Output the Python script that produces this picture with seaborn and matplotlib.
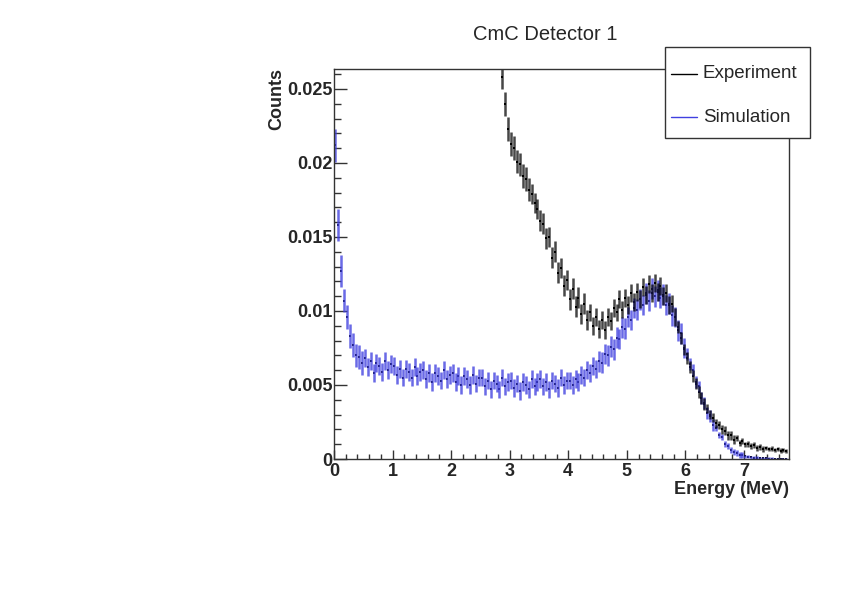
import numpy as np
import matplotlib
matplotlib.use("Agg")
import matplotlib.pyplot as plt
import seaborn as sns
from matplotlib.lines import Line2D
from matplotlib.patches import Rectangle
from matplotlib.ticker import MultipleLocator, FuncFormatter

# Histogram bins (MeV), 0.05 MeV wide
bin_width = 0.05
sim_start = 0.0
exp_start = 2.85

# Simulation counts per bin, 0.0 - 7.75 MeV
sim_counts = [
    0.0212, 0.0158, 0.0127, 0.0107, 0.0096, 0.0083, 0.0077, 0.0070, 0.0069, 0.0065,
    0.0068, 0.0062, 0.0066, 0.0058, 0.0065, 0.0063, 0.0059, 0.0066, 0.0060, 0.0064,
    0.0063, 0.0057, 0.0061, 0.0055, 0.0061, 0.0059, 0.0055, 0.0062, 0.0056, 0.0059,
    0.0060, 0.0054, 0.0058, 0.0052, 0.0058, 0.0056, 0.0053, 0.0060, 0.0054, 0.0057,
    0.0058, 0.0052, 0.0056, 0.0050, 0.0056, 0.0054, 0.0050, 0.0057, 0.0051, 0.0055,
    0.0055, 0.0049, 0.0053, 0.0047, 0.0053, 0.0051, 0.0047, 0.0055, 0.0049, 0.0052,
    0.0053, 0.0048, 0.0051, 0.0046, 0.0052, 0.0050, 0.0047, 0.0054, 0.0049, 0.0052,
    0.0054, 0.0049, 0.0052, 0.0047, 0.0053, 0.0051, 0.0048, 0.0055, 0.0050, 0.0053,
    0.0053, 0.0050, 0.0054, 0.0052, 0.0057, 0.0055, 0.0060, 0.0058, 0.0063, 0.0061,
    0.0066, 0.0065, 0.0071, 0.0070, 0.0076, 0.0074, 0.0082, 0.0081, 0.0089, 0.0088,
    0.0096, 0.0094, 0.0102, 0.0101, 0.0108, 0.0104, 0.0112, 0.0107, 0.0115, 0.0110,
    0.0114, 0.0109, 0.0111, 0.0104, 0.0105, 0.0097, 0.0096, 0.0087, 0.0085, 0.0075,
    0.0071, 0.0064, 0.0060, 0.0052, 0.0049, 0.0041, 0.0038, 0.0031, 0.0029, 0.0023,
    0.0021, 0.0016, 0.0015, 0.0010, 0.0009, 0.0006, 0.0005, 0.0004, 0.0003, 0.00025,
    0.0002, 0.00015, 0.00012, 0.0001, 0.00008, 0.00006, 0.00005, 0.00004, 0.00003, 0.00003,
    0.00002, 0.00002, 0.00001, 0.00001, 0.00001,
]
sim_errors = ([0.0011] * 3 + [0.0008] * 7 + [0.0006] * 80 + [0.0007] * 30
              + [0.0004] * 10 + [0.0002] * 10 + [0.0001] * 10 + [0.00005] * 5)

# Experiment counts per bin, 2.85 - 7.75 MeV (lower bins are off scale)
exp_counts = [
    0.0258, 0.0240, 0.0223, 0.0213, 0.0210, 0.0201, 0.0199, 0.0191, 0.0189, 0.0182,
    0.0179, 0.0173, 0.0169, 0.0161, 0.0159, 0.0149, 0.0150, 0.0136, 0.0140, 0.0126,
    0.0129, 0.0117, 0.0121, 0.0108, 0.0115, 0.0103, 0.0109, 0.0098, 0.0105, 0.0094,
    0.0099, 0.0090, 0.0096, 0.0088, 0.0094, 0.0087, 0.0096, 0.0093, 0.0102, 0.0099,
    0.0108, 0.0101, 0.0109, 0.0104, 0.0112, 0.0106, 0.0113, 0.0108, 0.0116, 0.0111,
    0.0118, 0.0112, 0.0119, 0.0113, 0.0117, 0.0110, 0.0112, 0.0104, 0.0105, 0.0096,
    0.0089, 0.0082, 0.0074, 0.0068, 0.0062, 0.0056, 0.0051, 0.0045, 0.0041, 0.0037,
    0.0034, 0.0030, 0.0028, 0.0024, 0.0023, 0.0020, 0.0019, 0.0016, 0.0016, 0.0013,
    0.0014, 0.0011, 0.0012, 0.00098, 0.00102, 0.00085, 0.00092, 0.00076, 0.00082, 0.0007,
    0.00076, 0.00066, 0.0007, 0.00062, 0.00066, 0.00057, 0.00061, 0.00053,
]
exp_errors = ([0.0008] * 10 + [0.0007] * 20 + [0.0006] * 30 + [0.0004] * 10
              + [0.0003] * 10 + [0.0002] * 10 + [0.00015] * 8)

sim_energy = sim_start + bin_width * (np.arange(len(sim_counts)) + 0.5)
exp_energy = exp_start + bin_width * (np.arange(len(exp_counts)) + 0.5)

sns.set_style("ticks")
plt.rcParams["font.family"] = ["Liberation Sans", "DejaVu Sans"]

fig = plt.figure(figsize=(8.42, 5.95), dpi=100)
ax = fig.add_axes([334 / 842, 1 - 459 / 595, 455 / 842, 390 / 595])

sim_color = (0.25, 0.25, 0.88)

ax.errorbar(sim_energy, sim_counts, yerr=sim_errors, fmt="none",
            ecolor=sim_color, elinewidth=1.8, alpha=0.78)
sns.scatterplot(x=sim_energy, y=sim_counts, color="black", s=2,
                marker="s", linewidth=0, ax=ax)
ax.errorbar(exp_energy, exp_counts, yerr=exp_errors, fmt="none",
            ecolor="black", elinewidth=1.8, alpha=0.72)
sns.scatterplot(x=exp_energy, y=exp_counts, color="black", s=2,
                marker="s", linewidth=0, ax=ax)

ax.set_xlim(0, 7.77)
ax.set_ylim(0, 0.02635)

ax.xaxis.set_major_locator(MultipleLocator(1))
ax.xaxis.set_minor_locator(MultipleLocator(0.2))
ax.yaxis.set_major_locator(MultipleLocator(0.005))
ax.yaxis.set_minor_locator(MultipleLocator(0.001))
ax.yaxis.set_major_formatter(FuncFormatter(lambda v, p: "%g" % round(v, 4)))

ax.tick_params(axis="both", which="both", direction="in", top=False, right=False,
               labelsize=13, width=1, color="#333333")
ax.tick_params(axis="y", which="major", length=9.4, pad=1)
ax.tick_params(axis="y", which="minor", length=5)
ax.tick_params(axis="x", which="major", length=6.5, pad=3)
ax.tick_params(axis="x", which="minor", length=3.5)
for lab in ax.get_xticklabels() + ax.get_yticklabels():
    lab.set_fontweight("bold")

for sp in ax.spines.values():
    sp.set_color("#333333")
    sp.set_linewidth(1)

ax.set_xlabel("")
ax.set_ylabel("")
fig.text(789 / 842, 1 - 490 / 595, "Energy (MeV)", ha="right", va="center",
         fontsize=13, fontweight="bold")
fig.text(277 / 842, 1 - 68 / 595, "Counts", ha="center", va="top",
         rotation=90, fontsize=13, fontweight="bold")

fig.text(545 / 842, 1 - 35 / 595, "CmC Detector 1", ha="center", va="center",
         fontsize=14.5)

# legend box
fig.add_artist(Rectangle((665 / 842, 1 - 138 / 595), 145 / 842, 91 / 595,
                         transform=fig.transFigure, facecolor="white",
                         edgecolor="#333333", linewidth=1, zorder=5))
for yy, lab, col in [(74, "Experiment", "black"), (117, "Simulation", sim_color)]:
    fig.add_artist(Line2D([671 / 842, 697 / 842], [1 - yy / 595, 1 - yy / 595],
                          transform=fig.transFigure, color=col, lw=1, zorder=6))
    fig.text(703 / 842, 1 - yy / 595, lab, ha="left", va="center",
             fontsize=13.5, zorder=6)

fig.savefig("out.png", dpi=100, facecolor="white")
